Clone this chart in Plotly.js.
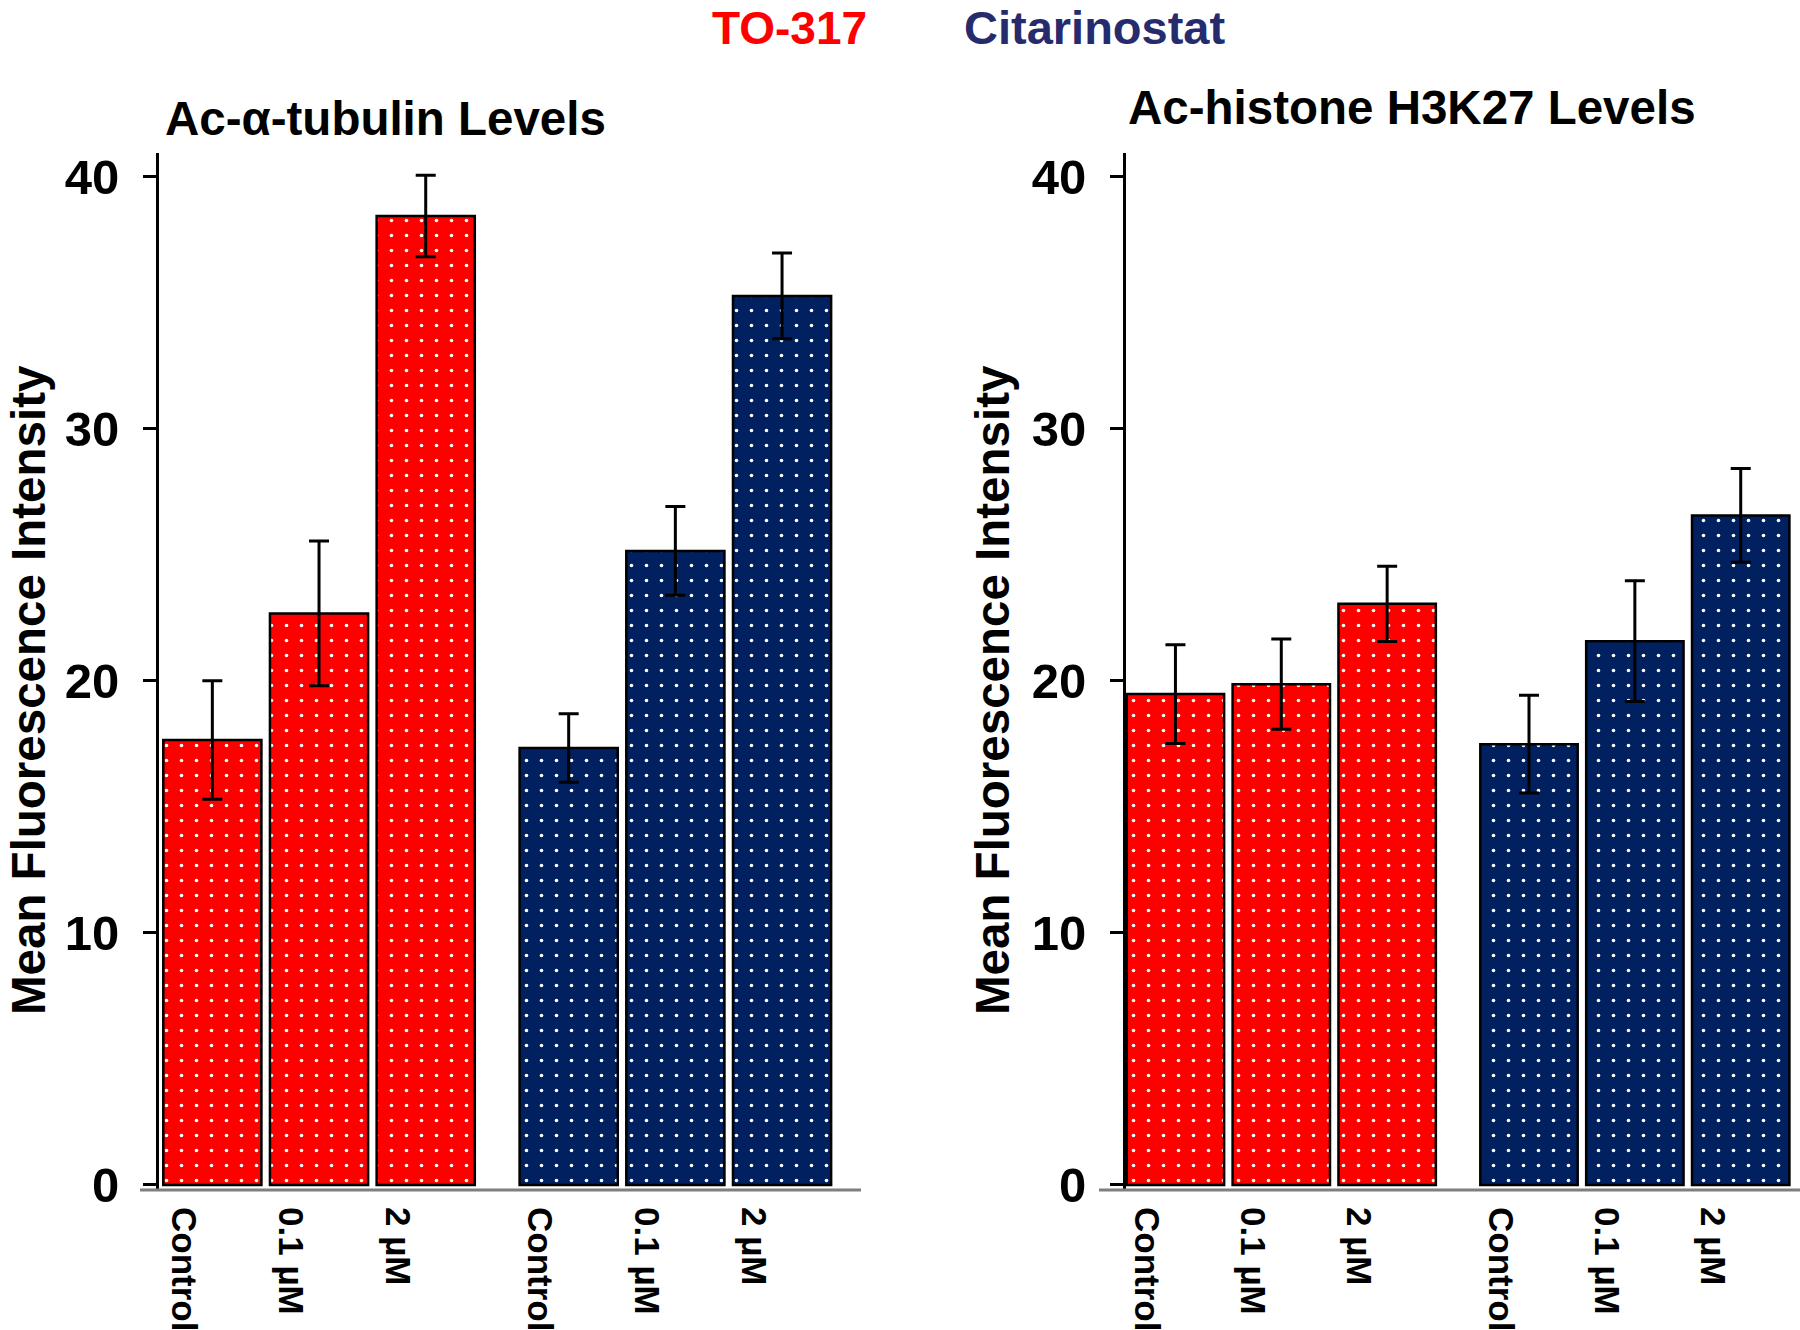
<!DOCTYPE html>
<html>
<head>
<meta charset="utf-8">
<script src="https://cdn.plot.ly/plotly-3.0.1.min.js"></script>
<style>html,body{margin:0;padding:0;background:#fff;}#chart{width:1800px;height:1330px;}</style>
</head>
<body>
<div id="chart"></div>
<script>
// ---- data ----
const categories = ['Control', '0.1 µM', '2 µM'];
const drugs = ['TO-317', 'Citarinostat'];
const panelTitles = ['Ac-α-tubulin Levels', 'Ac-histone H3K27 Levels'];
const yTitle = 'Mean Fluorescence Intensity';
const yTickVals = [0, 10, 20, 30, 40];

const tubulinTO = [17.66, 22.68, 38.45];
const tubulinTOErr = [2.35, 2.87, 1.62];
const tubulinCit = [17.34, 25.16, 35.28];
const tubulinCitErr = [1.36, 1.76, 1.70];

const histoneTO = [19.48, 19.87, 23.06];
const histoneTOErr = [1.96, 1.79, 1.49];
const histoneCit = [17.49, 21.58, 26.57];
const histoneCitErr = [1.94, 2.40, 1.86];

// ---- styling / layout constants ----
const W = 1800, H = 1330;
const RED = '#FF0000', NAVY = '#002060', LEGEND_NAVY = '#262B6E';
const FONT = 'Liberation Sans, Arial, Helvetica, sans-serif';
const GROUP_GAP = 1.34;   // extra space between the two drug groups (in bar units)
const BAR_W = 0.92;
const LABEL_SHIFT = 0.27;
const px = v => v / W;
const py = v => 1 - v / H;

function positions(g) { return categories.map((c, i) => i + g * (2 + GROUP_GAP)); }

function barTrace(vals, errs, g, color, xa, ya) {
  return {
    type: 'bar',
    x: positions(g),
    y: vals,
    width: BAR_W,
    xaxis: xa, yaxis: ya,
    name: drugs[g],
    marker: {
      color: color,
      line: {color: '#000', width: 2.5},
      pattern: {shape: '.', fgcolor: '#FFFFFF', bgcolor: color, size: 15, solidity: 0.045, fillmode: 'replace'}
    },
    error_y: {type: 'data', array: errs, symmetric: true, visible: true, color: '#000', thickness: 3, width: 10},
    hoverinfo: 'y'
  };
}

const data = [
  barTrace(tubulinTO, tubulinTOErr, 0, RED, 'x', 'y'),
  barTrace(tubulinCit, tubulinCitErr, 1, NAVY, 'x', 'y'),
  barTrace(histoneTO, histoneTOErr, 0, RED, 'x2', 'y2'),
  barTrace(histoneCit, histoneCitErr, 1, NAVY, 'x2', 'y2')
];

const allPos = positions(0).concat(positions(1));
const tickPos = allPos.map(p => p - LABEL_SHIFT);
const tickText = categories.concat(categories);

const boldFont = (size, color) => ({family: FONT, size: size, color: color || '#000', weight: 700});

function xAxis(domain, range) {
  return {
    domain: domain, range: range, showgrid: false, zeroline: false, showline: false,
    ticks: '', tickvals: tickPos, ticktext: tickText, tickangle: 90,
    tickfont: boldFont(35), ticklabelstandoff: 16, fixedrange: true
  };
}
function yAxis(anchor) {
  return {
    domain: [py(1190), py(153)], range: [-0.2, 40.95], anchor: anchor,
    showgrid: false, zeroline: false, showline: true, linecolor: '#000', linewidth: 3,
    ticks: 'outside', ticklen: 13, tickwidth: 3, tickcolor: '#000',
    tickvals: yTickVals, tickfont: boldFont(49), ticklabelstandoff: 14, fixedrange: true
  };
}

const layout = {
  width: W, height: H,
  margin: {l: 0, r: 0, t: 0, b: 0},
  paper_bgcolor: '#fff', plot_bgcolor: 'rgba(0,0,0,0)',
  showlegend: false, barmode: 'overlay',
  xaxis: xAxis([px(159), px(861)], [-0.50, 6.08]),
  yaxis: yAxis('x'),
  xaxis2: xAxis([px(1126), 1], [-0.467, 5.90]),
  yaxis2: yAxis('x2'),
  shapes: [
    {type: 'line', xref: 'paper', yref: 'paper', x0: px(140), x1: px(861), y0: py(1190), y1: py(1190), line: {color: '#7F7F7F', width: 3}},
    {type: 'line', xref: 'paper', yref: 'paper', x0: px(1099), x1: 1, y0: py(1190), y1: py(1190), line: {color: '#7F7F7F', width: 3}}
  ],
  annotations: [
    {text: drugs[0], xref: 'paper', yref: 'paper', x: px(789), y: py(28), xanchor: 'center', yanchor: 'middle', borderpad: 0, showarrow: false, font: boldFont(46, RED)},
    {text: drugs[1], xref: 'paper', yref: 'paper', x: px(1094), y: py(28), xanchor: 'center', yanchor: 'middle', borderpad: 0, showarrow: false, font: boldFont(47, LEGEND_NAVY)},
    {text: panelTitles[0], xref: 'paper', yref: 'paper', x: px(385), y: py(118), xanchor: 'center', yanchor: 'middle', showarrow: false, font: boldFont(47.5)},
    {text: panelTitles[1], xref: 'paper', yref: 'paper', x: px(1412), y: py(107), xanchor: 'center', yanchor: 'middle', showarrow: false, font: boldFont(47.5)},
    {text: yTitle, xref: 'paper', yref: 'paper', x: px(28), y: py(690), xanchor: 'center', yanchor: 'middle', textangle: -90, showarrow: false, font: boldFont(47.5)},
    {text: yTitle, xref: 'paper', yref: 'paper', x: px(992), y: py(690), xanchor: 'center', yanchor: 'middle', textangle: -90, showarrow: false, font: boldFont(47.5)}
  ]
};

Plotly.newPlot('chart', data, layout, {displayModeBar: false, staticPlot: true});
</script>
</body>
</html>
